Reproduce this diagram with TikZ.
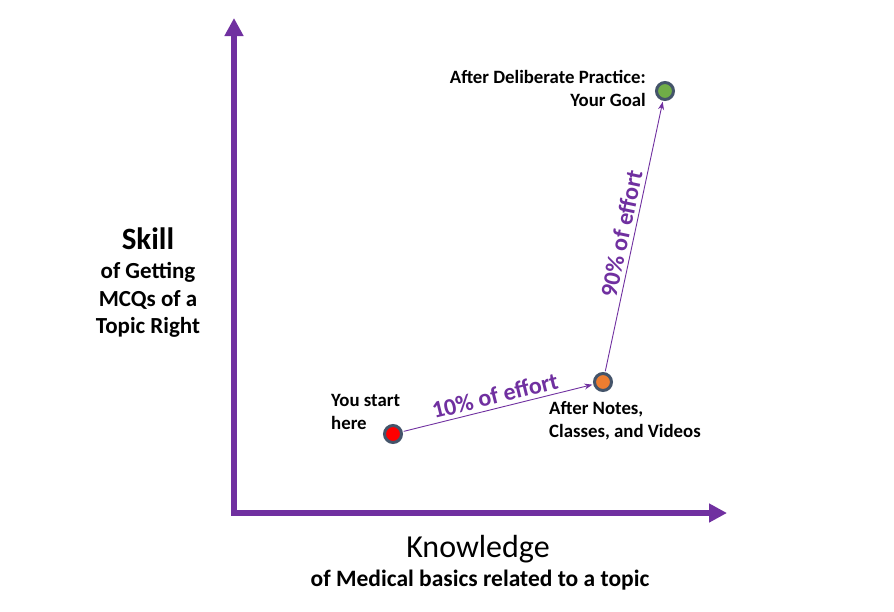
\documentclass[tikz,border=0pt]{standalone}
\usepackage{fontspec}
\setmainfont{Carlito}
\usepackage{xcolor}
\usetikzlibrary{arrows.meta}
\definecolor{axispurple}{HTML}{7030A0}
\definecolor{dotborder}{HTML}{44546A}
\definecolor{dotred}{HTML}{FF0000}
\definecolor{dotorange}{HTML}{ED7D31}
\definecolor{dotgreen}{HTML}{70AD47}

\begin{document}
\begin{tikzpicture}[
    x=1pt, y=-1pt,
    axis/.style={draw=axispurple, line width=6pt,
      {Triangle[length=18pt,width=18pt]}-{Triangle[length=18pt,width=18pt]}},
    dot/.style={circle, draw=dotborder, line width=3pt, minimum size=17pt, inner sep=0pt},
    path/.style={draw=axispurple, line width=0.9pt, -{Stealth[length=8pt,width=6pt]}, shorten <=1pt, shorten >=1pt},
    lbl/.style={font=\bfseries\fontsize{18.8}{23}\selectfont, inner sep=0pt},
    effort/.style={font=\bfseries\fontsize{24}{26}\selectfont, text=axispurple, sloped, above=4pt, inner sep=0pt}
  ]
  \useasboundingbox (0,0) rectangle (894,611);

  % axes
  \coordinate (ytip) at (234,18);
  \coordinate (xtip) at (727,513);
  \draw[axis] (ytip) |- (xtip);

  % axis titles
  \node[font=\bfseries\fontsize{31}{34}\selectfont] (skill) at (148,239) {Skill};
  \node[font=\bfseries\fontsize{23}{27.5}\selectfont, align=center] (skillsub) at (148,300)
    {of Getting\\MCQs of a\\Topic Right};
  \node[font=\fontsize{32}{34}\selectfont] (know) at (478,549) {Knowledge};
  \node[font=\bfseries\fontsize{23.5}{26}\selectfont] (knowsub) at (480,580)
    {of Medical basics related to a topic};

  % stages
  \node[dot, fill=dotred] (start) at (393,434) {};
  \node[dot, fill=dotorange] (notes) at (603,382) {};
  \node[dot, fill=dotgreen] (goal) at (665,91) {};

  \node[lbl, align=left, anchor=north west] (startlbl) at (331,394) {You start\\here};
  \node[lbl, align=left, anchor=north west] (noteslbl) at (549,401) {After Notes,\\Classes, and Videos};
  \node[lbl, align=right, anchor=north east] (goallbl) at (646,70) {After Deliberate Practice:\\Your Goal};

  % effort
  \draw[path] (start) -- node[effort] {10\% of effort} (notes);
  \draw[path] (notes) -- node[effort] {90\% of effort} (goal);

\end{tikzpicture}
\end{document}
